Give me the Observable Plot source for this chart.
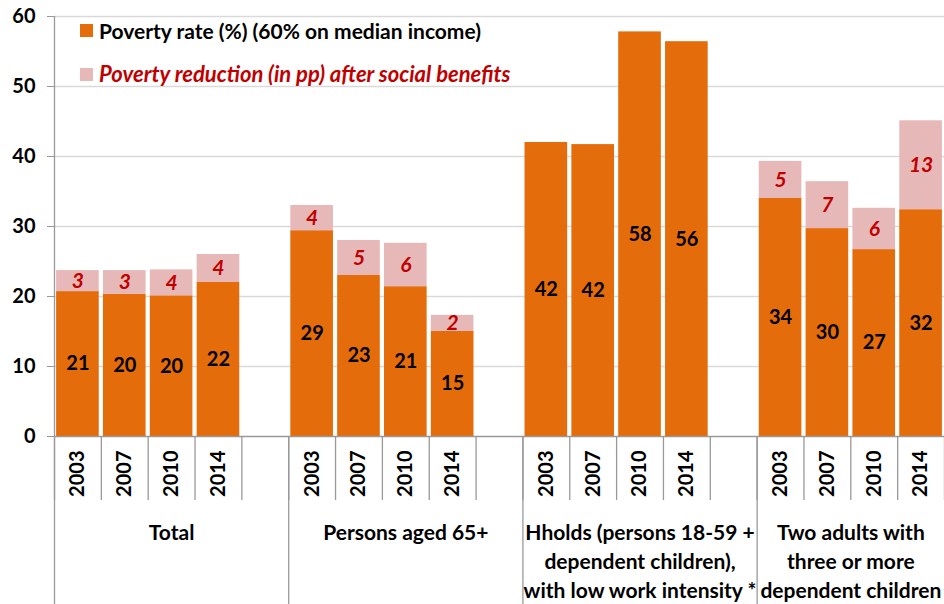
<!DOCTYPE html>
<html>
<head>
<meta charset="utf-8">
<script src="https://cdn.jsdelivr.net/npm/d3@7"></script>
<script src="https://cdn.jsdelivr.net/npm/@observablehq/plot@0.6"></script>
<style>
  body { margin: 0; background: #fff; font-family: Lato, "Open Sans", sans-serif; }
  #wrap { position: relative; width: 944px; height: 604px; }
  .leg { position: absolute; display: flex; align-items: center; font-weight: bold; white-space: nowrap; line-height: 1; }
  .sw { width: 13px; height: 13px; margin-right: 6px; flex: none; }
</style>
</head>
<body>
<div id="wrap">
  <div id="chart"></div>
  <div class="leg" style="left:80px; top:20px; color:#000; font-size:21px;"><div class="sw" style="background:#E46C0A"></div>Poverty rate (%) (60% on median income)</div>
  <div class="leg" style="left:80px; top:63px; color:#C00000; font-style:italic; font-size:22px;"><div class="sw" style="background:#E6B9B8"></div>Poverty reduction (in pp) after social benefits</div>
</div>
<script>
const groups = [
  "Total",
  "Persons aged 65+",
  "Hholds (persons 18-59 +\ndependent children),\nwith low work intensity *",
  "Two adults with\nthree or more\ndependent children"
];
const years = ["2003", "2007", "2010", "2014"];
// poverty rate (%) per group, per year
const povertyTotal = [20.7, 20.3, 20.1, 22.0];
const poverty65 = [29.4, 23.0, 21.4, 15.0];
const povertyHholds = [42.0, 41.7, 57.8, 56.4];
const povertyTwoAdults = [34.0, 29.7, 26.7, 32.4];
// poverty reduction (pp) after social benefits
const reductionTotal = [3.0, 3.4, 3.7, 4.0];
const reduction65 = [3.6, 5.0, 6.2, 2.3];
const reductionHholds = [null, null, null, null];
const reductionTwoAdults = [5.3, 6.7, 5.9, 12.7];
const yTicks = [0, 10, 20, 30, 40, 50, 60];

const povertyAll = [povertyTotal, poverty65, povertyHholds, povertyTwoAdults];
const reductionAll = [reductionTotal, reduction65, reductionHholds, reductionTwoAdults];
const slotsPerGroup = years.length + 1;
const nSlots = groups.length * slotsPerGroup - 1;

const rows = [];
groups.forEach((g, gi) => years.forEach((yr, j) => {
  rows.push({group: g, year: yr, slot: gi * slotsPerGroup + j, poverty: povertyAll[gi][j], reduction: reductionAll[gi][j]});
}));
const redRows = rows.filter(d => d.reduction != null);
const groupRows = groups.map((g, gi) => ({group: g, start: gi * slotsPerGroup, mid: gi * slotsPerGroup + Math.min(slotsPerGroup, nSlots - gi * slotsPerGroup) / 2}));
const slotBounds = d3.range(0, nSlots + 1);
const groupBounds = groupRows.map(d => d.start);

const pad = 0.045;
const chart = Plot.plot({
  width: 944,
  height: 604,
  marginTop: 16,
  marginBottom: 168,
  marginLeft: 54,
  marginRight: 0,
  style: {fontFamily: "Lato, 'Open Sans', sans-serif", color: "#000", overflow: "visible"},
  x: {domain: [0, nSlots], axis: null},
  y: {domain: [0, 60], axis: null},
  marks: [
    Plot.gridY(yTicks.filter(t => t > 0), {stroke: "#D9D9D9", strokeOpacity: 1, strokeWidth: 1.3}),
    Plot.axisY(yTicks, {label: null, tickSize: 7, tickPadding: 12, stroke: "#999", fontSize: 20, fontWeight: "bold", fill: "#000"}),
    Plot.rectY(rows, {x1: d => d.slot + pad, x2: d => d.slot + 1 - pad, y1: 0, y2: "poverty", fill: "#E46C0A"}),
    Plot.rectY(redRows, {x1: d => d.slot + pad, x2: d => d.slot + 1 - pad, y1: "poverty", y2: d => d.poverty + d.reduction, fill: "#E6B9B8"}),
    Plot.text(rows, {x: d => d.slot + 0.5, y: d => d.poverty / 2, text: d => String(Math.round(d.poverty)), fontSize: 20, fontWeight: "bold", fill: "#000"}),
    Plot.text(redRows, {x: d => d.slot + 0.5, y: d => d.poverty + d.reduction / 2, text: d => String(Math.round(d.reduction)), fontSize: 21, fontWeight: "bold", fontStyle: "italic", fill: "#C00000"}),
    Plot.ruleX([0], {y1: 0, y2: 60, stroke: "#999", strokeWidth: 1.3}),
    Plot.ruleY([0], {stroke: "#999", strokeWidth: 1.3}),
    Plot.ruleX(slotBounds, {x: d => d, y1: 0, y2: 0, insetBottom: -64, stroke: "#999", strokeWidth: 1.3}),
    Plot.ruleX(groupBounds, {x: d => d, y1: 0, y2: 0, insetBottom: -170, stroke: "#999", strokeWidth: 1.3}),
    Plot.text(rows, {x: d => d.slot + 0.5, y: 0, dy: 14, text: "year", rotate: -90, textAnchor: "end", lineAnchor: "middle", fontSize: 20, fontWeight: "bold", fill: "#000"}),
    Plot.text(groupRows, {x: "mid", y: 0, dy: 83, text: "group", lineAnchor: "top", lineHeight: 1.38, fontSize: 21, fontWeight: "bold", fill: "#000"})
  ]
});
document.getElementById("chart").appendChild(chart);
</script>
</body>
</html>
